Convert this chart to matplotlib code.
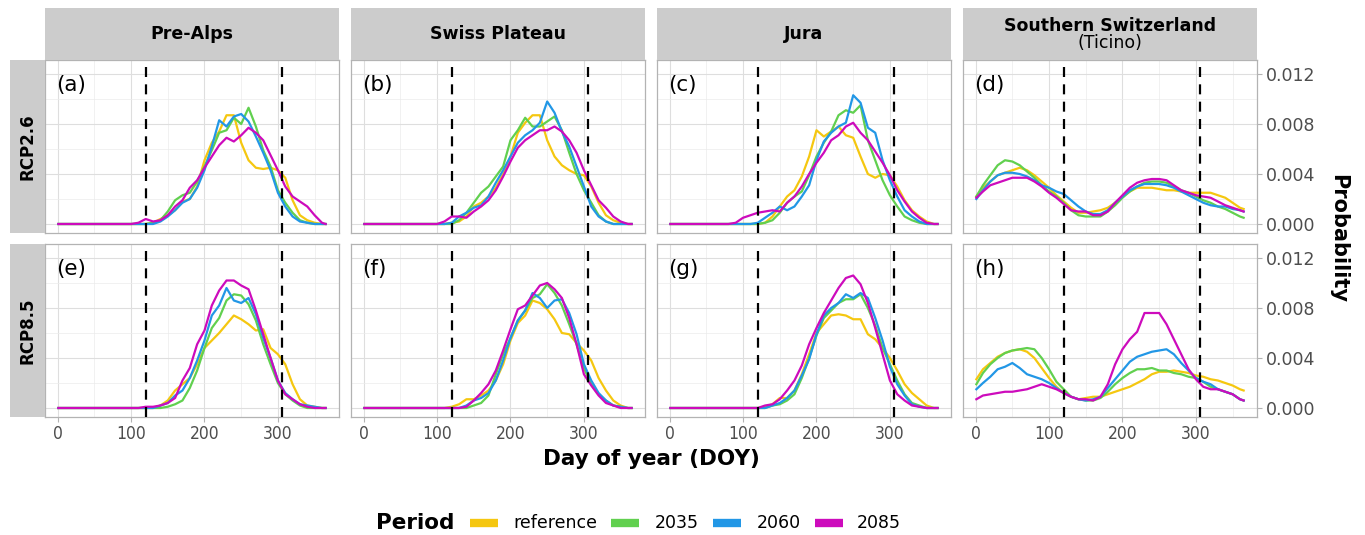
import matplotlib
matplotlib.use("Agg")
import matplotlib.pyplot as plt
from matplotlib.lines import Line2D
from matplotlib.patches import Rectangle
import numpy as np

# ---------------- data (probability values in units of 1e-4) ----------------
doy = [1, 10, 20, 30, 40, 50, 60, 70, 80, 90, 100, 110, 120, 130, 140, 150, 160, 170,
       180, 190, 200, 210, 220, 230, 240, 250, 260, 270, 280, 290, 300, 310, 320, 330,
       340, 350, 360, 365]

regions = ["Pre-Alps", "Swiss Plateau", "Jura", "Southern Switzerland"]
scenarios = ["RCP2.6", "RCP8.5"]
periods = ["reference", "2035", "2060", "2085"]
period_colors = ["#F5C710", "#61D04F", "#2297E6", "#CD0BBC"]
panel_tags = ["(a)", "(b)", "(c)", "(d)", "(e)", "(f)", "(g)", "(h)"]

# (a) RCP2.6 Pre-Alps
a_ref  = [0,0,0,0,0,0,0,0,0,0,0,0,0,1,4,7,11,18,20,30,51,65,74,87,87,65,51,45,44,45,43,37,19,7,3,1,0,0]
a_2035 = [0,0,0,0,0,0,0,0,0,0,0,0,0,1,3,10,19,23,25,34,46,59,73,75,85,80,93,78,59,46,27,17,9,3,1,0,0,0]
a_2060 = [0,0,0,0,0,0,0,0,0,0,0,0,0,0,2,6,11,17,20,29,43,62,83,78,86,88,82,70,57,43,25,14,6,2,1,0,0,0]
a_2085 = [0,0,0,0,0,0,0,0,0,0,0,1,4,2,3,7,14,19,29,35,45,54,63,69,66,71,77,73,67,55,43,30,22,18,14,7,1,0]
# (b) RCP2.6 Swiss Plateau
b_ref  = [0,0,0,0,0,0,0,0,0,0,0,0,1,2,6,14,17,22,29,40,54,73,81,87,87,67,54,47,43,40,39,30,17,7,3,1,0,0]
b_2035 = [0,0,0,0,0,0,0,0,0,0,0,0,0,3,9,17,25,30,38,46,67,75,85,78,78,82,86,75,57,40,27,17,7,2,0,0,0,0]
b_2060 = [0,0,0,0,0,0,0,0,0,0,0,0,1,6,9,13,15,22,33,43,54,65,71,75,81,98,89,74,62,46,30,14,6,2,0,0,0,0]
b_2085 = [0,0,0,0,0,0,0,0,0,0,0,2,6,6,5,10,14,19,27,38,50,61,67,71,75,75,78,74,67,57,43,31,19,13,6,2,0,0]
# (c) RCP2.6 Jura
c_ref  = [0,0,0,0,0,0,0,0,0,0,0,0,0,1,6,14,22,27,38,54,75,70,74,78,71,69,54,40,37,40,39,30,19,11,6,2,0,0]
c_2035 = [0,0,0,0,0,0,0,0,0,0,0,0,0,1,3,9,17,22,26,39,54,65,74,87,91,89,95,67,51,35,23,14,6,3,1,0,0,0]
c_2060 = [0,0,0,0,0,0,0,0,0,0,0,0,1,5,9,14,11,14,22,31,51,66,73,78,81,103,97,77,73,51,35,22,11,6,2,0,0,0]
c_2085 = [0,0,0,0,0,0,0,0,0,1,5,7,9,10,11,10,17,22,30,40,49,57,67,71,78,81,73,67,58,49,39,27,18,10,5,1,0,0]
# (d) RCP2.6 Southern Switzerland
d_ref  = [22,29,34,39,41,43,45,43,39,34,29,23,18,13,9,9,10,11,13,17,22,26,29,29,29,28,27,27,26,25,25,25,25,23,21,17,13,12]
d_2035 = [22,31,39,47,51,50,47,42,37,31,26,22,17,11,7,6,6,6,10,15,21,26,30,33,34,34,33,30,27,25,22,19,17,14,12,9,6,5]
d_2060 = [20,27,34,39,41,41,40,38,35,31,29,26,24,19,14,10,8,8,11,17,22,27,30,32,32,32,31,29,26,23,20,17,15,14,14,12,11,10]
d_2085 = [21,26,31,33,35,37,37,37,34,30,25,21,16,11,10,10,7,7,10,17,23,29,33,35,36,36,35,31,27,25,23,22,21,18,15,13,11,10]
# (e) RCP8.5 Pre-Alps
e_ref  = [0,0,0,0,0,0,0,0,0,0,0,0,0,0,2,6,14,19,24,35,48,54,60,67,74,71,67,62,63,48,43,35,19,7,2,1,0,0]
e_2035 = [0,0,0,0,0,0,0,0,0,0,0,0,0,0,0,1,3,6,16,30,48,64,72,86,91,90,83,70,51,35,20,11,6,2,0,0,0,0]
e_2060 = [0,0,0,0,0,0,0,0,0,0,0,0,0,0,2,4,10,14,24,38,54,74,82,96,86,84,88,75,56,40,22,12,7,3,2,1,0,0]
e_2085 = [0,0,0,0,0,0,0,0,0,0,0,0,1,1,2,4,8,22,32,51,62,82,94,102,102,98,95,78,59,40,22,11,7,3,1,0,0,0]
# (f) RCP8.5 Swiss Plateau
f_ref  = [0,0,0,0,0,0,0,0,0,0,0,0,1,3,7,7,10,14,22,35,54,68,74,86,84,79,71,60,59,52,46,38,24,14,6,2,0,0]
f_2035 = [0,0,0,0,0,0,0,0,0,0,0,0,0,0,0,2,4,10,27,43,56,70,78,88,91,99,92,82,67,51,32,19,11,6,2,1,0,0]
f_2060 = [0,0,0,0,0,0,0,0,0,0,0,0,0,0,2,6,8,12,22,38,56,70,78,92,88,80,86,87,76,59,35,22,12,6,2,1,0,0]
f_2085 = [0,0,0,0,0,0,0,0,0,0,0,0,0,0,1,6,12,19,30,46,63,79,82,90,98,100,95,88,72,51,27,18,10,4,2,0,0,0]
# (g) RCP8.5 Jura
g_ref  = [0,0,0,0,0,0,0,0,0,0,0,0,0,1,3,8,8,14,27,43,60,67,74,75,74,71,71,59,55,48,40,30,19,12,7,2,0,0]
g_2035 = [0,0,0,0,0,0,0,0,0,0,0,0,0,0,2,3,6,11,24,40,58,72,78,84,87,87,91,80,66,48,35,22,11,4,2,0,0,0]
g_2060 = [0,0,0,0,0,0,0,0,0,0,0,0,0,0,2,4,8,14,26,39,59,74,80,84,91,88,92,88,72,54,33,19,10,3,1,0,0,0]
g_2085 = [0,0,0,0,0,0,0,0,0,0,0,0,0,2,3,7,14,22,34,51,64,76,86,96,104,106,99,84,64,43,22,11,6,2,1,0,0,0]
# (h) RCP8.5 Southern Switzerland
h_ref  = [23,31,36,41,44,46,47,45,40,32,24,17,12,9,7,8,9,9,11,13,15,17,20,23,27,29,29,30,29,28,26,25,23,22,20,18,15,14]
h_2035 = [19,28,35,40,44,46,47,48,47,40,31,21,15,9,7,6,6,8,13,19,24,28,31,31,32,30,30,28,27,25,24,21,17,15,13,11,7,6]
h_2060 = [15,20,25,31,33,36,32,27,25,23,20,16,12,9,7,6,7,9,16,23,30,37,41,43,45,46,47,43,36,30,24,21,19,15,13,11,7,6]
h_2085 = [7,10,11,12,13,13,14,15,17,19,17,15,12,9,7,7,6,9,19,35,47,55,61,76,76,76,67,55,43,31,23,17,15,15,13,11,7,6]

panels = [
    [a_ref, a_2035, a_2060, a_2085], [b_ref, b_2035, b_2060, b_2085],
    [c_ref, c_2035, c_2060, c_2085], [d_ref, d_2035, d_2060, d_2085],
    [e_ref, e_2035, e_2060, e_2085], [f_ref, f_2035, f_2060, f_2085],
    [g_ref, g_2035, g_2060, g_2085], [h_ref, h_2035, h_2060, h_2085],
]
season_bounds = [121, 305]
x_ticks = [0, 100, 200, 300]
y_ticks = [0.000, 0.004, 0.008, 0.012]
y_tick_labels = ["0.000", "0.004", "0.008", "0.012"]
SCALE = 1e-4

# ---------------- layout ----------------
W, H = 1365, 535
fig = plt.figure(figsize=(W / 100, H / 100), dpi=100)
fig.patch.set_facecolor("white")

def rect(l, t, w, h):
    return [l / W, 1 - (t + h) / H, w / W, h / H]

col_left = [45, 351, 657, 963]
pw = 294
row_top = [60, 244]
ph = 173
strip_top, strip_h = 8, 52
lstrip_left, lstrip_w = 10, 35

TICK_C = "#4D4D4D"
BORDER_C = "#B3B3B3"
STRIP_C = "#CCCCCC"

for r in range(2):
    for c in range(4):
        idx = r * 4 + c
        ax = fig.add_axes(rect(col_left[c], row_top[r], pw, ph))
        ax.set_xlim(-17.2, 383.2)
        ax.set_ylim(-0.00072, 0.01312)
        ax.set_xticks(x_ticks)
        ax.set_xticks([50, 150, 250, 350], minor=True)
        ax.set_yticks(y_ticks)
        ax.set_yticks([0.002, 0.006, 0.010], minor=True)
        ax.grid(which="major", color="#DEDEDE", lw=0.8, zorder=0)
        ax.grid(which="minor", color="#EBEBEB", lw=0.5, zorder=0)
        ax.set_axisbelow(True)
        for s in ax.spines.values():
            s.set_color(BORDER_C)
            s.set_linewidth(0.9)
        ax.tick_params(which="minor", length=0)
        if r == 1:
            ax.tick_params(axis="x", which="major", length=3.5, color=BORDER_C,
                           labelsize=12.5, labelcolor=TICK_C, pad=2.5)
            for lab in ax.get_xticklabels():
                lab.set_fontstretch("condensed")
        else:
            ax.tick_params(axis="x", which="major", length=0, labelbottom=False)
        if c == 3:
            ax.yaxis.tick_right()
            ax.set_yticklabels(y_tick_labels)
            ax.tick_params(axis="y", which="major", length=3.5, color=BORDER_C,
                           labelsize=12.5, labelcolor=TICK_C, pad=3)
        else:
            ax.tick_params(axis="y", which="major", length=0, labelleft=False)

        for series, col in zip(panels[idx], period_colors):
            ax.plot(doy, np.array(series) * SCALE, color=col, lw=1.6,
                    solid_joinstyle="round", zorder=3)
        for b in season_bounds:
            ax.axvline(b, color="black", lw=1.6, dashes=(4.5, 3.3), zorder=4)
        ax.text(-2, 0.0111, panel_tags[idx], fontsize=15.5, ha="left", va="center",
                color="black")

# top strips
for c in range(4):
    sax = fig.add_axes(rect(col_left[c], strip_top, pw, strip_h))
    sax.set_xlim(0, 1); sax.set_ylim(0, 1)
    sax.axis("off")
    sax.add_patch(Rectangle((0, 0), 1, 1, facecolor=STRIP_C, edgecolor="none",
                            transform=sax.transAxes))
    if c < 3:
        sax.text(0.5, 0.5, regions[c], ha="center", va="center", fontsize=12.5,
                 fontweight="bold")
    else:
        sax.text(0.5, 0.66, regions[c], ha="center", va="center", fontsize=12.5,
                 fontweight="bold")
        sax.text(0.5, 0.32, "(Ticino)", ha="center", va="center", fontsize=12.5)

# left strips
for r in range(2):
    sax = fig.add_axes(rect(lstrip_left, row_top[r], lstrip_w, ph))
    sax.set_xlim(0, 1); sax.set_ylim(0, 1)
    sax.axis("off")
    sax.add_patch(Rectangle((0, 0), 1, 1, facecolor=STRIP_C, edgecolor="none",
                            transform=sax.transAxes))
    sax.text(0.5, 0.5, scenarios[r], ha="center", va="center", rotation=90,
             fontsize=12, fontweight="bold")

# axis titles
fig.text(651 / W, 1 - 459 / H, "Day of year (DOY)", ha="center", va="center",
         fontsize=15.5, fontweight="bold")
fig.text(1338 / W, 1 - 238 / H, "Probability", ha="center", va="center",
         rotation=270, fontsize=15, fontweight="bold")

# legend
ly = 1 - 523 / H
fig.text(376 / W, ly, "Period", ha="left", va="center", fontsize=15.5, fontweight="bold")
key_x = [470, 611, 713, 815]
lab_x = [513, 655, 757, 857]
for kx, lx, col, lab in zip(key_x, lab_x, period_colors, periods):
    fig.add_artist(Line2D([kx / W, (kx + 28) / W], [ly, ly], color=col, lw=6,
                          solid_capstyle="butt", transform=fig.transFigure))
    fig.text(lx / W, ly, lab, ha="left", va="center", fontsize=12.5)

fig.savefig("out.png", dpi=100, facecolor="white")
